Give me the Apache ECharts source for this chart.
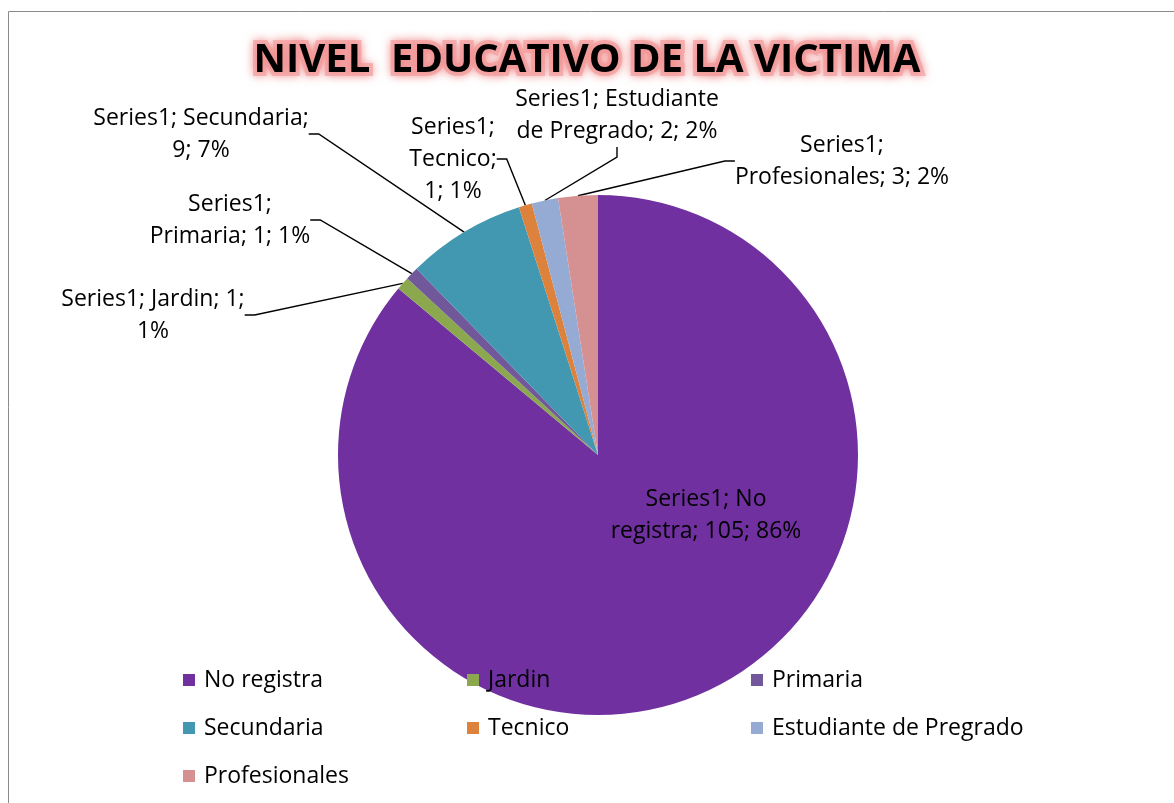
<!DOCTYPE html>
<html>
<head>
<meta charset="utf-8">
<script src="https://cdn.jsdelivr.net/npm/echarts@6/dist/echarts.min.js"></script>
<style>
  html, body { margin: 0; padding: 0; background: #fff; }
  #main { width: 1174px; height: 803px; }
</style>
</head>
<body>
<div id="main"></div>
<script>
// data
const categories = ['No registra', 'Jardin', 'Primaria', 'Secundaria', 'Tecnico', 'Estudiante de Pregrado', 'Profesionales']
const values = [105, 1, 1, 9, 1, 2, 3]
const seriesName = 'Series1'

const colors = ['#7030A0', '#8BA84F', '#70589A', '#4298B0', '#DC823C', '#95ABD3', '#D59191']

// label boxes: center x, center y, wrap width
const labelBoxes = [
  [706, 515, 200],
  [153, 315, 200],
  [230, 220, 176],
  [201, 134, 225],
  [453, 159, 97],
  [617, 115, 215],
  [842, 161, 222]
]

const FONT_NAME = 'Open Sans'
const FONT = '"Open Sans", "Noto Sans", sans-serif'
const FONT_SIZE = 23
const total = values.reduce((a, b) => a + b, 0)

// greedy word wrap, like the office label box does
const measureCtx = document.createElement('canvas').getContext('2d')
measureCtx.font = FONT_SIZE + 'px "' + FONT_NAME + '"'
function wrapText (text, width) {
  const words = text.split(' ')
  const lines = []
  let cur = ''
  words.forEach(w => {
    const next = cur ? cur + ' ' + w : w
    if (cur && measureCtx.measureText(next).width > width) {
      lines.push(cur)
      cur = w
    } else {
      cur = next
    }
  })
  if (cur) lines.push(cur)
  return lines.join('\n')
}

const chart = echarts.init(document.getElementById('main'))

chart.setOption({
  backgroundColor: '#fff',
  animation: false,
  title: {
    text: 'NIVEL  EDUCATIVO DE LA VICTIMA',
    left: 'center',
    top: 36,
    textStyle: {
      fontFamily: FONT,
      fontSize: 40,
      fontWeight: 'bold',
      color: '#000',
      textBorderColor: 'rgba(244, 165, 165, 0.75)',
      textBorderWidth: 8,
      textShadowColor: 'rgba(240, 130, 130, 0.9)',
      textShadowBlur: 10
    }
  },
  graphic: [
    {
      type: 'rect',
      shape: { x: 8.5, y: 11.5, width: 1200, height: 820 },
      style: { fill: 'none', stroke: '#8a8a8a', lineWidth: 1 },
      silent: true
    }
  ],
  legend: {
    left: 183,
    top: 662,
    width: 870,
    padding: 0,
    itemGap: 12,
    itemWidth: 12,
    itemHeight: 12,
    icon: 'rect',
    textStyle: {
      fontFamily: FONT,
      fontSize: FONT_SIZE,
      color: '#000',
      width: 251,
      lineHeight: 36,
      padding: [0, 0, 0, 4]
    }
  },
  series: [
    {
      name: seriesName,
      type: 'pie',
      center: [598, 455],
      radius: [0, 260],
      startAngle: 90,
      clockwise: true,
      avoidLabelOverlap: false,
      label: {
        show: true,
        color: '#000',
        fontFamily: FONT,
        fontSize: FONT_SIZE,
        lineHeight: 32,
        align: 'center',
        formatter: p => {
          const pct = Math.round(p.value / total * 100)
          const text = seriesName + '; ' + p.name + '; ' + p.value + '; ' + pct + '%'
          return wrapText(text, labelBoxes[p.dataIndex][2])
        }
      },
      labelLine: {
        show: true,
        length: 20,
        length2: 10,
        lineStyle: { color: '#000', width: 1.4 }
      },
      labelLayout: params => {
        const box = labelBoxes[params.dataIndex]
        return {
          x: box[0],
          y: box[1],
          align: 'center',
          verticalAlign: 'middle'
        }
      },
      itemStyle: { borderWidth: 0 },
      emphasis: { disabled: true },
      data: categories.map((name, i) => ({
        name: name,
        value: values[i],
        itemStyle: { color: colors[i] },
        labelLine: { show: i !== 0 }
      }))
    }
  ]
})
</script>
</body>
</html>
